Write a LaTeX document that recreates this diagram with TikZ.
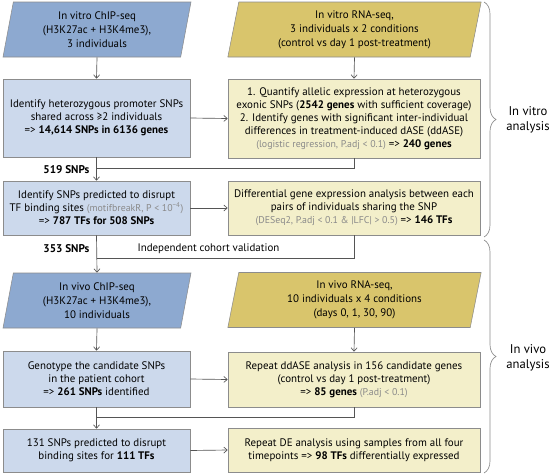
\documentclass[tikz,border=0pt]{standalone}
\usepackage{xcolor}
\usepackage{fontspec}
\setmainfont{PT Sans}
\usepackage{tikz}
\usetikzlibrary{shapes.geometric, arrows.meta, decorations.pathreplacing}

\definecolor{chipblue}{HTML}{8DA9D0}
\definecolor{boxblue}{HTML}{CCD9EC}
\definecolor{rnayellow}{HTML}{D9C56C}
\definecolor{boxyellow}{HTML}{F3EFCA}
\definecolor{edgegray}{HTML}{8C8C8C}
\definecolor{linegray}{HTML}{555555}
\definecolor{notegray}{HTML}{8A8A8A}

\newcommand{\subnote}[1]{{\color{notegray}\fontsize{7.4}{9.8}\selectfont #1}}

\begin{document}
\begin{tikzpicture}[x=0.75pt,y=0.75pt,yscale=-1,xscale=1,
  every node/.style={font=\fontsize{8.2}{9.8}\selectfont, align=center, inner sep=1pt},
  para/.style={trapezium, trapezium left angle=75, trapezium right angle=105,
    trapezium stretches body, draw=edgegray, line width=0.4pt, minimum height=41.25pt,
    font=\fontsize{8.2}{10.5}\selectfont},
  chippara/.style={para, fill=chipblue, minimum width=141pt},
  rnapara/.style={para, fill=rnayellow, minimum width=190pt},
  leftbox/.style={rectangle, draw=edgegray, fill=boxblue, line width=0.4pt, minimum width=140.25pt},
  rightbox/.style={rectangle, draw=edgegray, fill=boxyellow, line width=0.4pt, minimum width=189pt},
  flow/.style={draw=linegray, line width=0.5pt, -{Straight Barb[length=2.6pt,width=4.5pt]}},
  link/.style={draw=linegray, line width=0.5pt},
  bracket/.style={draw=edgegray, line width=0.5pt, decorate, decoration={brace, amplitude=9pt}},
  stepnote/.style={font=\fontsize{8.4}{9.8}\selectfont\bfseries, anchor=east},
  sidenote/.style={font=\fontsize{9.5}{11}\selectfont}
]
\path[use as bounding box] (0,0) rectangle (550,475);

% In vitro
\node[chippara] (vitrochip) at (97,29.5) {In vitro ChIP-seq\\(H3K27ac + H3K4me3),\\3 individuals};
\node[rnapara] (vitrorna) at (354.5,29.5) {In vitro RNA-seq,\\3 individuals x 2 conditions\\(control vs day 1 post-treatment)};
\node[leftbox, minimum height=58.5pt] (hetsnp) at (96.5,118) {Identify heterozygous promoter SNPs\\shared across ≥2 individuals\\=> \textbf{14,614 SNPs in 6136 genes}};
\node[rightbox, minimum height=59.25pt] (allelic) at (354,118.5) {1. Quantify allelic expression at heterozygous\\exonic SNPs (\textbf{2542 genes} with sufficient coverage)\\2. Identify genes with significant inter-individual\\differences in treatment-induced dASE (ddASE)\\\subnote{(logistic regression, P.adj < 0.1)} => \textbf{240 genes}};
\node[leftbox, minimum height=40.5pt] (tfsites) at (96.5,208) {Identify SNPs predicted to disrupt\\TF binding sites \subnote{(motifbreakR, P < 10\textsuperscript{−4})}\\=> \textbf{787 TFs for 508 SNPs}};
\node[rightbox, minimum height=40.5pt] (degene) at (354,208) {Differential gene expression analysis between each\\pairs of individuals sharing the SNP\\\subnote{(DESeq2, P.adj < 0.1 \& |LFC| > 0.5)} => \textbf{146 TFs}};

% In vivo
\node[chippara] (vivochip) at (97,300.5) {In vivo ChIP-seq\\(H3K27ac + H3K4me3),\\10 individuals};
\node[rnapara] (vivorna) at (354.5,300) {In vivo RNA-seq,\\10 individuals x 4 conditions\\(days 0, 1, 30, 90)};
\node[leftbox, minimum height=42pt] (genotype) at (96.5,379) {Genotype the candidate SNPs\\in the patient cohort\\=> \textbf{261 SNPs} identified};
\node[rightbox, minimum height=41.25pt] (ddase) at (354,379.5) {Repeat ddASE analysis in 156 candidate genes\\(control vs day 1 post-treatment)\\=> \textbf{85 genes} \subnote{(P.adj < 0.1)}};
\node[leftbox, minimum height=32.25pt] (disrupt) at (96.5,450.5) {131 SNPs predicted to disrupt\\binding sites for \textbf{111 TFs}};
\node[rightbox, minimum height=33pt] (deanalysis) at (354,450) {Repeat DE analysis using samples from all four\\timepoints => \textbf{98 TFs} differentially expressed};

% Labels
\node[stepnote] (snp519) at (91,170) {519 SNPs};
\node[stepnote] (snp353) at (91,249) {353 SNPs};
\node[anchor=west] (cohort) at (136,249) {Independent cohort validation};
\node[sidenote] (vitrolab) at (528,120) {In vitro\\analysis};
\node[sidenote] (vivolab) at (528,358) {In vivo\\analysis};

\coordinate (merge1) at (96.5,168);
\coordinate (merge2) at (96.5,258);
\coordinate (merge3) at (96.5,417);

% Connection
\draw[flow] (vitrochip.south) -- (hetsnp.north);
\draw[flow] (vitrorna.south) -- (allelic.north);
\draw[flow] (hetsnp.east) -- (allelic.west);
\draw[flow] (hetsnp.south) -- (tfsites.north);
\draw[link] (allelic.south) |- (merge1);
\draw[flow] (tfsites.east) -- (degene.west);
\draw[flow] (tfsites.south) -- (vivochip.north);
\draw[link] (degene.south) |- (merge2);
\draw[flow] (vivochip.south) -- (genotype.north);
\draw[flow] (vivorna.south) -- (ddase.north);
\draw[flow] (genotype.east) -- (ddase.west);
\draw[flow] (genotype.south) -- (disrupt.north);
\draw[link] (ddase.south) |- (merge3);
\draw[flow] (disrupt.east) -- (deanalysis.west);

% Braces
\draw[bracket] (484,2) -- (484,237);
\draw[bracket] (484,240) -- (484,473);

\end{tikzpicture}
\end{document}
